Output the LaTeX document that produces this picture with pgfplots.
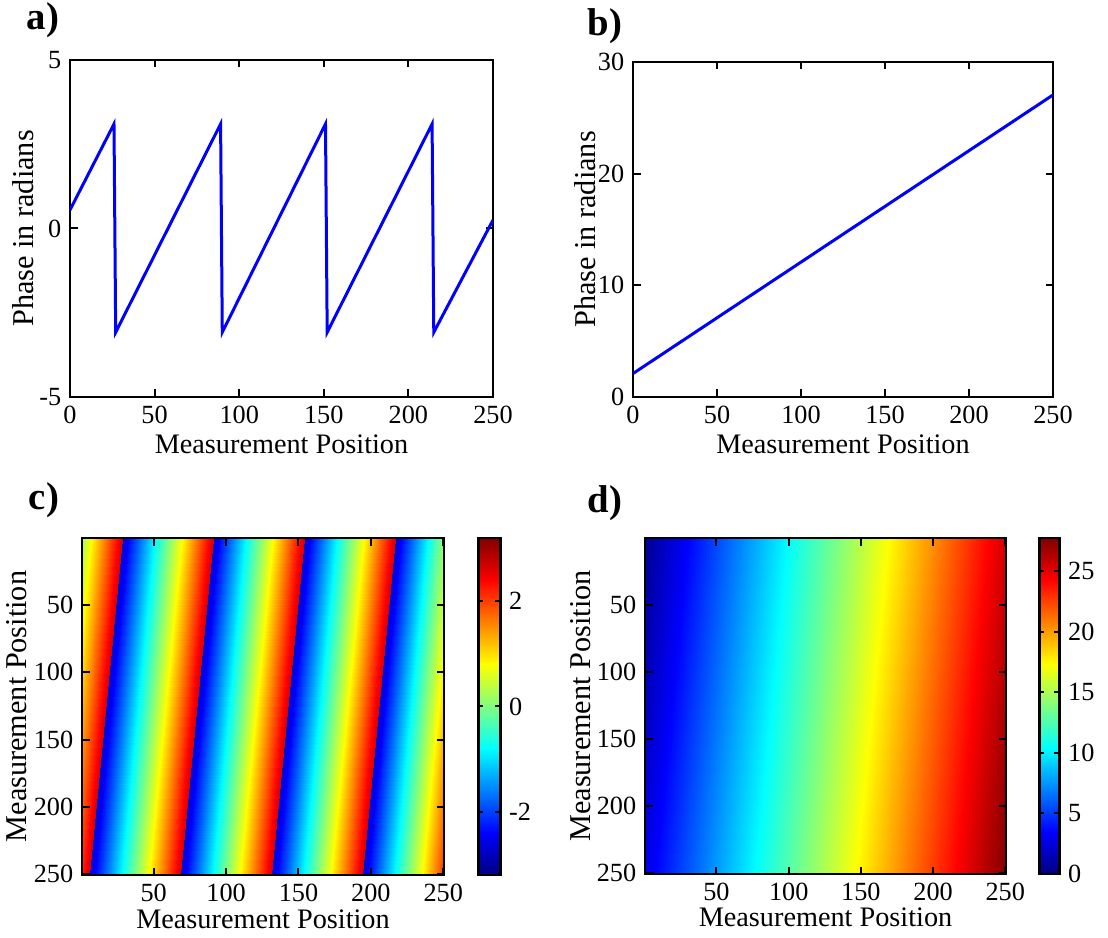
\documentclass[border=0pt]{standalone}
\usepackage{fontspec}
\setmainfont{Liberation Serif}
\usepackage{pgfplots}
\pgfplotsset{compat=1.18}
\usepgfplotslibrary{patchplots}

\pgfplotsset{
  colormap={mjet}{rgb255(0cm)=(0,0,128) rgb255(1cm)=(0,0,255) rgb255(3cm)=(0,255,255) rgb255(5cm)=(255,255,0) rgb255(7cm)=(255,0,0) rgb255(8cm)=(128,0,0)},
  mystyle/.style={
    scale only axis,
    anchor=south west,
    axis line style={line width=1pt},
    every tick/.style={black, line width=0.8pt},
    major tick length=3pt,
    tick align=inside,
    /pgf/number format/assume math mode=true,
    tick label style={font=\fontsize{10.5}{12}\selectfont},
    xlabel style={font=\fontsize{11.3}{13}\selectfont},
    ylabel style={font=\fontsize{12.1}{14}\selectfont},
  },
  cbstyle/.style={
    scale only axis,
    axis line style={line width=1pt},
    every tick/.style={black, line width=0.8pt},
    major tick length=2pt,
    tick align=inside,
    yticklabel pos=right,
    /pgf/number format/assume math mode=true,
    tick label style={font=\fontsize{10.5}{12}\selectfont},
  }
}

\pgfplotstableread{
x y c
0.5 0.5 0.25
29.0 0.5 2.7
6.3 250.5 2.7
0.5 250.5 2.2
29.0 0.5 -2.7
91.8 0.5 2.7
69.1 250.5 2.7
6.3 250.5 -2.7
91.8 0.5 -2.7
154.6 0.5 2.7
131.9 250.5 2.7
69.1 250.5 -2.7
154.6 0.5 -2.7
217.4 0.5 2.7
194.7 250.5 2.7
131.9 250.5 -2.7
217.4 0.5 -2.7
250.5 0.5 0.15
250.5 250.5 2.1
194.7 250.5 -2.7
}\wrapped

\pgfplotstableread{
x y c
0.5 0.5 0.49
250.5 0.5 25.48
250.5 250.5 27.75
0.5 250.5 2.76
}\unwrapped

\begin{document}
\begin{tikzpicture}
\useasboundingbox (0,0) rectangle (443.2pt,374.8pt);

% a)
\begin{axis}[mystyle, at={(28pt,216pt)}, width=169.2pt, height=134.8pt,
  xmin=0, xmax=250, ymin=-5, ymax=5,
  xtick={0,50,...,250}, ytick={-5,0,5},
  xlabel={Measurement Position}, ylabel={Phase in radians},
  xlabel style={at={(axis description cs:0.5,-0.14)}, anchor=center},
  ylabel style={at={(axis description cs:-0.111,0.5)}, anchor=center}]
\addplot[color={rgb,1:red,0;green,0;blue,1}, line width=1.2pt] coordinates {
(0,0.55) (26,3.1) (27,-3.08) (89,3.1) (90,-3.08) (151,3.1) (152,-3.08) (214,3.1) (215,-3.08) (250,0.25)};
\end{axis}

% b)
\begin{axis}[mystyle, at={(253.2pt,216pt)}, width=168pt, height=134pt,
  xmin=0, xmax=250, ymin=0, ymax=30,
  xtick={0,50,...,250}, ytick={0,10,20,30},
  xlabel={Measurement Position}, ylabel={Phase in radians},
  xlabel style={at={(axis description cs:0.5,-0.14)}, anchor=center},
  ylabel style={at={(axis description cs:-0.114,0.5)}, anchor=center}]
\addplot[color={rgb,1:red,0;green,0;blue,1}, line width=1.2pt] coordinates {
(0,2.1) (250,27.05)};
\end{axis}

% c)
\begin{axis}[mystyle, at={(32.8pt,24.8pt)}, width=144.8pt, height=134.8pt,
  axis on top, y dir=reverse,
  xmin=0.5, xmax=250.5, ymin=0.5, ymax=250.5,
  xtick={50,100,...,250}, ytick={50,100,...,250},
  xlabel={Measurement Position}, ylabel={Measurement Position},
  xlabel style={at={(axis description cs:0.5,-0.13)}, anchor=center},
  ylabel style={at={(axis description cs:-0.18,0.5)}, anchor=center},
  colormap name=mjet, point meta min=-3.2, point meta max=3.2,
  colorbar,
  colorbar style={cbstyle, width=8.8pt, height=134.8pt,
    at={(parent axis.north east)}, anchor=north west, xshift=5.2pt,
    ytick={-2,0,2}}]
\addplot[patch, patch type=rectangle, shader=interp, point meta=explicit]
  table[x=x, y=y, meta=c] {\wrapped};
\end{axis}

% d)
\begin{axis}[mystyle, at={(258pt,25.2pt)}, width=144.4pt, height=134.4pt,
  axis on top, y dir=reverse,
  xmin=0.5, xmax=250.5, ymin=0.5, ymax=250.5,
  xtick={50,100,...,250}, ytick={50,100,...,250},
  xlabel={Measurement Position}, ylabel={Measurement Position},
  xlabel style={at={(axis description cs:0.5,-0.13)}, anchor=center},
  ylabel style={at={(axis description cs:-0.177,0.5)}, anchor=center},
  colormap name=mjet, point meta min=0, point meta max=27.75,
  colorbar,
  colorbar style={cbstyle, width=8pt, height=134.4pt,
    at={(parent axis.north east)}, anchor=north west, xshift=4.8pt,
    ytick={0,5,...,25}}]
\addplot[patch, patch type=rectangle, shader=interp, point meta=explicit]
  table[x=x, y=y, meta=c] {\unwrapped};
\end{axis}

\node[anchor=west, font=\fontsize{15.5}{17}\selectfont\bfseries] at (7.2pt,366.8pt) {a)};
\node[anchor=west, font=\fontsize{15.5}{17}\selectfont\bfseries] at (231.6pt,364.4pt) {b)};
\node[anchor=west, font=\fontsize{15.5}{17}\selectfont\bfseries] at (8pt,174.6pt) {c)};
\node[anchor=west, font=\fontsize{15.5}{17}\selectfont\bfseries] at (231.6pt,173.4pt) {d)};
\end{tikzpicture}
\end{document}
